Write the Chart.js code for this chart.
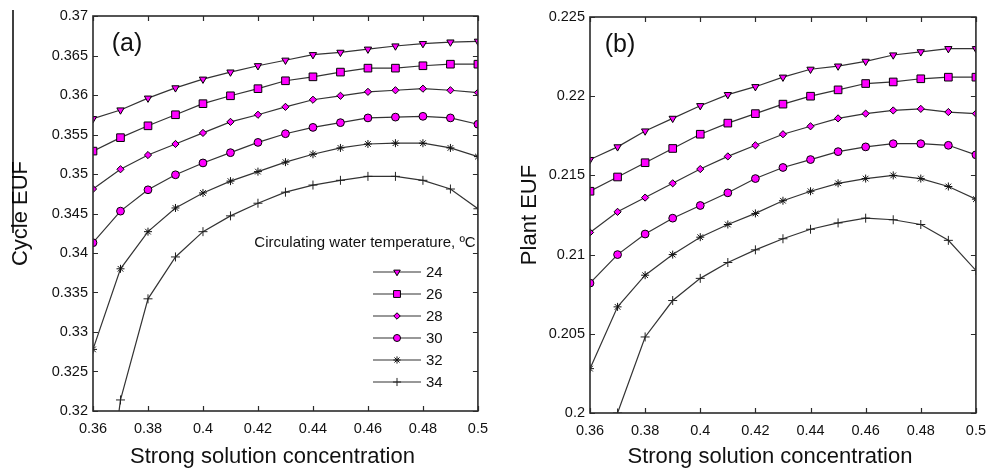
<!DOCTYPE html>
<html>
<head>
<meta charset="utf-8">
<script src="https://cdn.jsdelivr.net/npm/chart.js@4.4.1/dist/chart.umd.min.js"></script>
<style>
  html, body { margin: 0; padding: 0; background: #fff; }
  #wrap { position: relative; width: 995px; height: 475px; overflow: hidden; }
  .panel { position: absolute; top: 0; height: 475px; }
  #panelA { left: 0; width: 497px; }
  #panelB { left: 497px; width: 498px; }
</style>
</head>
<body>
<div id="wrap">
  <div class="panel" id="panelA"><canvas id="cycleChart" width="497" height="475"></canvas></div>
  <div class="panel" id="panelB"><canvas id="plantChart" width="498" height="475"></canvas></div>
</div>
<script>
// strong solution concentration (x) shared by both panels
const concentration = [0.36, 0.37, 0.38, 0.39, 0.40, 0.41, 0.42, 0.43, 0.44, 0.45, 0.46, 0.47, 0.48, 0.49, 0.50];
const concTicks = [0.36, 0.38, 0.4, 0.42, 0.44, 0.46, 0.48, 0.5];
const cycleTicks = [0.32, 0.325, 0.33, 0.335, 0.34, 0.345, 0.35, 0.355, 0.36, 0.365, 0.37];
const plantTicks = [0.2, 0.205, 0.21, 0.215, 0.22, 0.225];
const temperatures = ["24", "26", "28", "30", "32", "34"];

// (a) cycle EUF per circulating water temperature
const cycle24 = [0.3570, 0.3581, 0.3596, 0.3609, 0.3620, 0.3629, 0.3637, 0.3644, 0.3651, 0.3654, 0.3658, 0.3662, 0.3665, 0.3667, 0.3668];
const cycle26 = [0.3529, 0.3546, 0.3561, 0.3575, 0.3589, 0.3599, 0.3608, 0.3618, 0.3623, 0.3629, 0.3634, 0.3634, 0.3637, 0.3639, 0.3639];
const cycle28 = [0.3481, 0.3506, 0.3524, 0.3538, 0.3552, 0.3566, 0.3575, 0.3585, 0.3594, 0.3599, 0.3604, 0.3606, 0.3608, 0.3606, 0.3603];
const cycle30 = [0.3413, 0.3453, 0.3480, 0.3499, 0.3514, 0.3527, 0.3540, 0.3551, 0.3559, 0.3565, 0.3571, 0.3572, 0.3573, 0.3571, 0.3563];
const cycle32 = [0.3278, 0.3380, 0.3427, 0.3457, 0.3476, 0.3491, 0.3503, 0.3515, 0.3525, 0.3533, 0.3538, 0.3539, 0.3539, 0.3533, 0.3522];
const cycle34 = [0.2950, 0.3214, 0.3342, 0.3395, 0.3427, 0.3447, 0.3463, 0.3477, 0.3486, 0.3492, 0.3497, 0.3497, 0.3492, 0.3481, 0.3456];

// (b) plant EUF per circulating water temperature
const plant24 = [0.2160, 0.2168, 0.2178, 0.2186, 0.2194, 0.2201, 0.2206, 0.2212, 0.2217, 0.2219, 0.2222, 0.2226, 0.2228, 0.2230, 0.2230];
const plant26 = [0.2140, 0.2149, 0.2158, 0.2167, 0.2176, 0.2183, 0.2189, 0.2195, 0.2200, 0.2204, 0.2208, 0.2209, 0.2211, 0.2212, 0.2212];
const plant28 = [0.2114, 0.2127, 0.2136, 0.2145, 0.2154, 0.2162, 0.2169, 0.2176, 0.2181, 0.2186, 0.2189, 0.2191, 0.2192, 0.2190, 0.2189];
const plant30 = [0.2082, 0.2100, 0.2113, 0.2123, 0.2131, 0.2139, 0.2148, 0.2155, 0.2160, 0.2165, 0.2168, 0.2170, 0.2170, 0.2169, 0.2163];
const plant32 = [0.2028, 0.2067, 0.2087, 0.2100, 0.2111, 0.2119, 0.2126, 0.2134, 0.2140, 0.2145, 0.2148, 0.2150, 0.2148, 0.2143, 0.2135];
const plant34 = [0.1930, 0.2000, 0.2048, 0.2071, 0.2085, 0.2095, 0.2103, 0.2110, 0.2116, 0.2120, 0.2123, 0.2122, 0.2119, 0.2109, 0.2090];

const FONT = "'Liberation Sans', Arial, sans-serif";
const INK = "#111";
const LINE = "#333";
const MAGENTA = "#ff00ff";

const markers = [
  { pointStyle: "triangle", pointRotation: 180, pointRadius: 4.2, fill: MAGENTA, edge: "#000" },
  { pointStyle: "rect", pointRotation: 0, pointRadius: 5.4, fill: MAGENTA, edge: "#000" },
  { pointStyle: "rectRot", pointRotation: 0, pointRadius: 3.6, fill: MAGENTA, edge: "#000" },
  { pointStyle: "circle", pointRotation: 0, pointRadius: 3.9, fill: MAGENTA, edge: "#000" },
  { pointStyle: "star", pointRotation: 0, pointRadius: 4, fill: LINE, edge: "#111" },
  { pointStyle: "cross", pointRotation: 0, pointRadius: 4.5, fill: LINE, edge: "#222" }
];

Chart.defaults.font.family = FONT;
Chart.defaults.color = INK;

const fmt = v => String(+Number(v).toFixed(3));

function buildDatasets(seriesList) {
  return seriesList.map((values, i) => ({
    label: temperatures[i],
    data: concentration.map((c, k) => ({ x: c, y: values[k] })),
    borderColor: LINE,
    borderWidth: 1.2,
    tension: 0,
    pointStyle: markers[i].pointStyle,
    pointRotation: markers[i].pointRotation,
    pointRadius: markers[i].pointRadius,
    pointBackgroundColor: markers[i].fill,
    pointBorderColor: markers[i].edge,
    pointBorderWidth: 1
  }));
}

// box round the plot area with short inward ticks on all four sides
const framePlugin = {
  id: "frame",
  afterDraw(chart) {
    const { ctx, chartArea: a, scales } = chart;
    ctx.save();
    ctx.strokeStyle = "#2b2b2b";
    ctx.lineWidth = 1.2;
    ctx.beginPath();
    scales.x.ticks.forEach(t => {
      const px = Math.round(scales.x.getPixelForValue(t.value)) + 0.5;
      ctx.moveTo(px, a.bottom); ctx.lineTo(px, a.bottom - 5);
      ctx.moveTo(px, a.top); ctx.lineTo(px, a.top + 5);
    });
    scales.y.ticks.forEach(t => {
      const py = Math.round(scales.y.getPixelForValue(t.value)) + 0.5;
      ctx.moveTo(a.left, py); ctx.lineTo(a.left + 5, py);
      ctx.moveTo(a.right, py); ctx.lineTo(a.right - 5, py);
    });
    ctx.stroke();
    ctx.lineWidth = 1.6;
    ctx.strokeRect(a.left, a.top, a.right - a.left, a.bottom - a.top);
    ctx.restore();
  }
};

// panel tag, x axis title and the rule beside the y title
const captionPlugin = {
  id: "caption",
  afterDraw(chart, args, opts) {
    const { ctx, chartArea: a } = chart;
    ctx.save();
    ctx.fillStyle = INK;
    ctx.textAlign = "center";
    ctx.textBaseline = "middle";
    ctx.font = "25px " + FONT;
    ctx.fillText(opts.tag, a.left + opts.tagDx, a.top + 28);
    ctx.font = "22px " + FONT;
    ctx.fillText(opts.xTitle, (a.left + a.right) / 2 - 13, 457);
    if (opts.rule) {
      ctx.strokeStyle = "#000";
      ctx.lineWidth = 1.5;
      ctx.beginPath();
      ctx.moveTo(13, 10);
      ctx.lineTo(13, 233);
      ctx.stroke();
    }
    ctx.restore();
  }
};

// temperature legend inside panel (a)
const legendPlugin = {
  id: "tempLegend",
  afterDraw(chart) {
    const ctx = chart.ctx;
    ctx.save();
    ctx.font = "15px " + FONT;
    ctx.fillStyle = INK;
    ctx.textAlign = "center";
    ctx.textBaseline = "middle";
    ctx.fillText("Circulating water temperature, ºC", 365, 243);
    chart.data.datasets.forEach((ds, i) => {
      const y = 272 + i * 22;
      ctx.strokeStyle = LINE;
      ctx.lineWidth = 1.2;
      ctx.beginPath();
      ctx.moveTo(373, y);
      ctx.lineTo(421, y);
      ctx.stroke();
      ctx.fillStyle = ds.pointBackgroundColor;
      ctx.strokeStyle = ds.pointBorderColor;
      ctx.lineWidth = 1;
      Chart.helpers.drawPoint(ctx, {
        pointStyle: ds.pointStyle,
        radius: ds.pointRadius * 0.9,
        rotation: ds.pointRotation,
        borderWidth: 1
      }, 397, y);
      ctx.fillStyle = INK;
      ctx.textAlign = "left";
      ctx.fillText(ds.label, 426, y + 1);
    });
    ctx.restore();
  }
};

function makeChart(canvasId, seriesList, yTicks, yTitle, caption, extraPlugins, pad) {
  return new Chart(document.getElementById(canvasId), {
    type: "line",
    data: { datasets: buildDatasets(seriesList) },
    options: {
      responsive: false,
      animation: false,
      devicePixelRatio: 1,
      layout: { padding: { top: pad.top, right: pad.right, left: 0, bottom: 0 } },
      plugins: {
        legend: { display: false },
        tooltip: { enabled: false },
        caption
      },
      scales: {
        x: {
          type: "linear",
          min: concTicks[0],
          max: concTicks[concTicks.length - 1],
          afterBuildTicks: s => { s.ticks = concTicks.map(v => ({ value: v })); },
          afterFit: s => { s.height = pad.xAxis; },
          grid: { display: false, drawTicks: false },
          border: { display: false },
          ticks: { padding: 9, color: INK, font: { size: 14.5 }, maxRotation: 0, autoSkip: false, callback: fmt }
        },
        y: {
          type: "linear",
          min: yTicks[0],
          max: yTicks[yTicks.length - 1],
          afterBuildTicks: s => { s.ticks = yTicks.map(v => ({ value: v })); },
          afterFit: s => { s.width = 93; },
          grid: { display: false, drawTicks: false },
          border: { display: false },
          ticks: { padding: 5, color: INK, font: { size: 14.5 }, autoSkip: false, callback: fmt },
          title: { display: true, text: yTitle, color: INK, font: { size: 22 }, padding: { top: pad.yTitle, bottom: 0 } }
        }
      }
    },
    plugins: [framePlugin, captionPlugin].concat(extraPlugins)
  });
}

makeChart("cycleChart",
  [cycle24, cycle26, cycle28, cycle30, cycle32, cycle34],
  cycleTicks, "Cycle EUF",
  { tag: "(a)", tagDx: 34, xTitle: "Strong solution concentration", rule: true },
  [legendPlugin],
  { top: 16, right: 8, xAxis: 64, yTitle: 8 });

makeChart("plantChart",
  [plant24, plant26, plant28, plant30, plant32, plant34],
  plantTicks, "Plant EUF",
  { tag: "(b)", tagDx: 30, xTitle: "Strong solution concentration", rule: false },
  [],
  { top: 17, right: 9, xAxis: 62, yTitle: 20 });
</script>
</body>
</html>
